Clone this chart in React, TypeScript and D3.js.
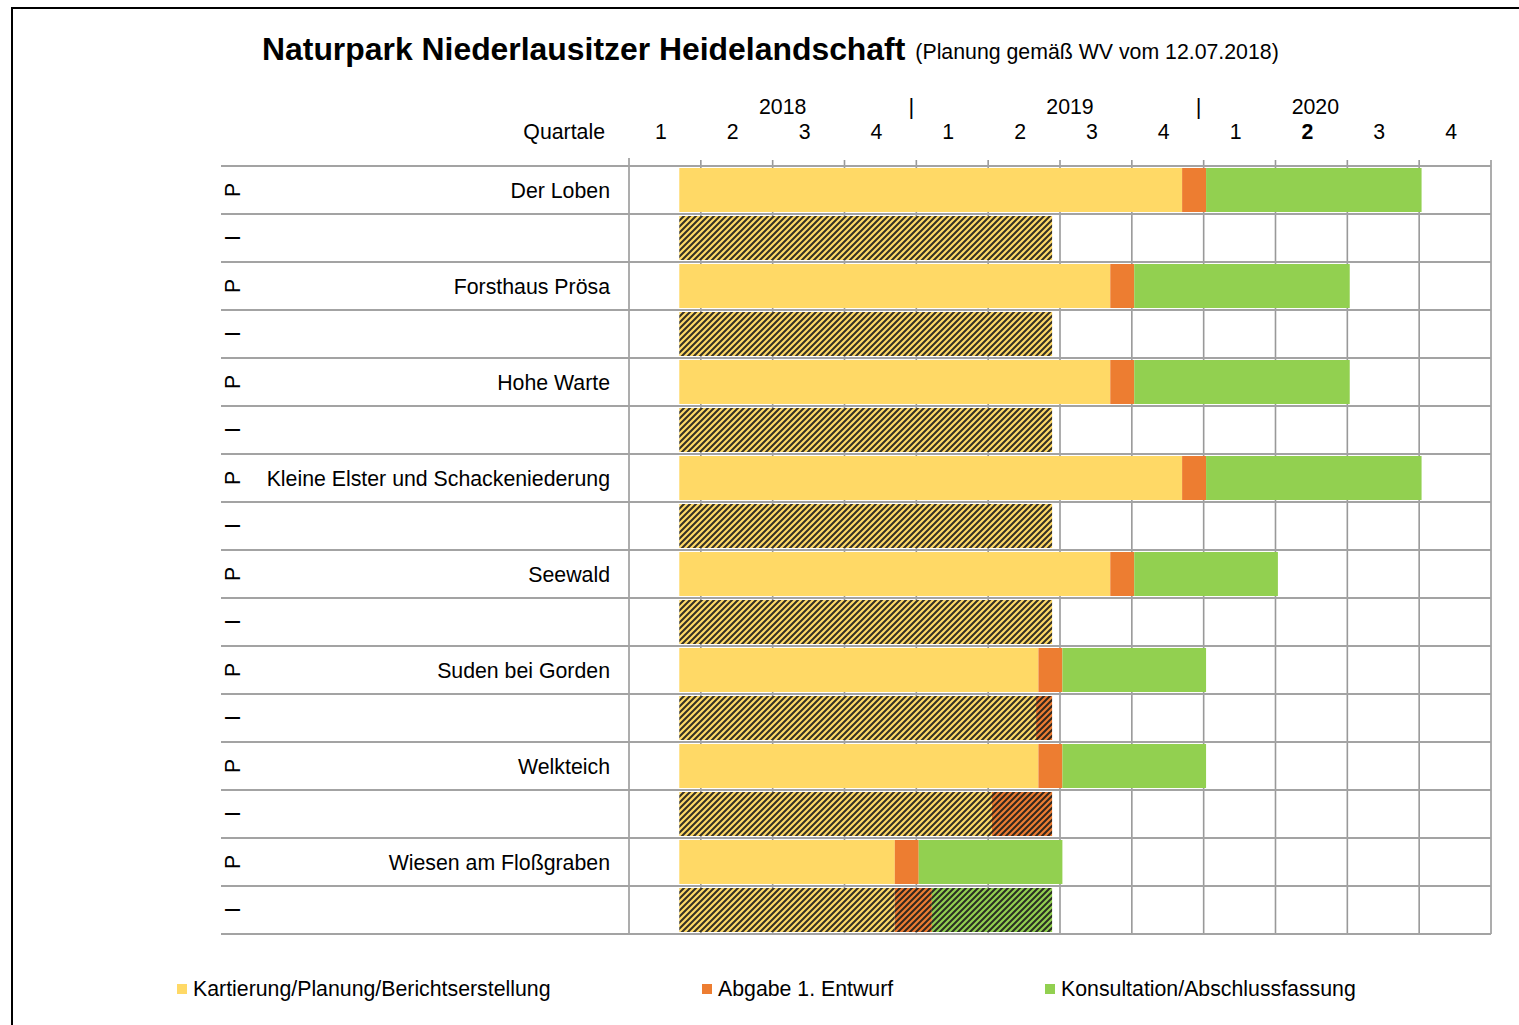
import React from "react";
import * as d3 from "d3";

// Gebiete (eine P-Zeile = Planung, eine I-Zeile = Ist je Gebiet)
const areas = [
  "Der Loben",
  "Forsthaus Prösa",
  "Hohe Warte",
  "Kleine Elster und Schackeniederung",
  "Seewald",
  "Suden bei Gorden",
  "Welkteich",
  "Wiesen am Floßgraben",
];

// Werte in Monaten ab Jan 2018
const planStart = [2.1, 2.1, 2.1, 2.1, 2.1, 2.1, 2.1, 2.1];
const planKartEnd = [23.1, 20.1, 20.1, 23.1, 20.1, 17.1, 17.1, 11.1];
const planAbgabeEnd = [24.1, 21.1, 21.1, 24.1, 21.1, 18.1, 18.1, 12.1];
const planKonsEnd = [33.1, 30.1, 30.1, 33.1, 27.1, 24.1, 24.1, 18.1];

const istStart = [2.1, 2.1, 2.1, 2.1, 2.1, 2.1, 2.1, 2.1];
const istKartEnd = [17.67, 17.67, 17.67, 17.67, 17.67, 17.0, 15.16, 11.1];
const istAbgabeEnd = [17.67, 17.67, 17.67, 17.67, 17.67, 17.67, 17.67, 12.65];
const istKonsEnd = [17.67, 17.67, 17.67, 17.67, 17.67, 17.67, 17.67, 17.67];

const years = ["2018", "2019", "2020"];
const quarterLabels = ["1", "2", "3", "4"];
const currentQuarter = 9; // 2. Quartal 2020 fett

const phases = [
  "Kartierung/Planung/Berichtserstellung",
  "Abgabe 1. Entwurf",
  "Konsultation/Abschlussfassung",
];
const colors = ["#FFD966", "#ED7D31", "#92D050"];

const FONT = "'Liberation Sans', Arial, sans-serif";
const FS = 21.3;

const App = () => {
  const x = d3.scaleLinear().domain([0, 36]).range([629, 1491]);
  const rowKeys = areas.flatMap((a) => [a + "|P", a + "|I"]);
  const y = d3.scaleBand().domain(rowKeys).range([166, 934]);
  const bh = y.bandwidth();
  const quarterTicks = d3.range(0, 37, 3);

  const segs = (s: number, a: number, b: number, c: number) =>
    [
      [s, a, 0],
      [a, b, 1],
      [b, c, 2],
    ].filter((d) => d[1] - d[0] > 0.01);

  const legendX = [177, 702, 1045];
  const yearShift = [10, 10, -32];

  return (
    <svg
      width={1519}
      height={1025}
      style={{ position: "absolute", left: 0, top: 0, background: "#fff" }}
      fontFamily={FONT}
    >
      <defs>
        {colors.map((c, i) => (
          <pattern
            key={i}
            id={`hatch${i}`}
            width={6}
            height={6}
            patternUnits="userSpaceOnUse"
          >
            <rect width={6} height={6} fill={c} />
            <path
              d="M0,6 L6,0 M-1,1 L1,-1 M5,7 L7,5"
              stroke="#1a1a1a"
              strokeWidth={2.1}
              strokeOpacity={0.88}
            />
          </pattern>
        ))}
      </defs>

      {/* Rahmen */}
      <rect x={12} y={8} width={1530} height={1040} fill="none" stroke="#000" strokeWidth={2} />

      {/* Titel */}
      <text x={262} y={60} fontSize={31.9} fontWeight="bold" fill="#000">
        Naturpark Niederlausitzer Heidelandschaft
        <tspan dx={10} fontSize={FS} fontWeight="normal" dy={-1}>
          (Planung gemäß WV vom 12.07.2018)
        </tspan>
      </text>

      {/* Kopfzeile */}
      {years.map((yr, i) => (
        <text
          key={yr}
          x={x(i * 12 + 6) + yearShift[i]}
          y={114}
          fontSize={FS}
          textAnchor="middle"
        >
          {yr}
        </text>
      ))}
      {[12, 24].map((m) => (
        <text key={m} x={x(m) - 5} y={114} fontSize={22} textAnchor="middle">
          |
        </text>
      ))}
      <text x={605} y={139} fontSize={FS} textAnchor="end">
        Quartale
      </text>
      {d3.range(12).map((q) => (
        <text
          key={q}
          x={x(q * 3 + 1.5) - 4}
          y={139}
          fontSize={FS}
          textAnchor="middle"
          fontWeight={q === currentQuarter ? "bold" : "normal"}
        >
          {quarterLabels[q % 4]}
        </text>
      ))}

      {/* Gitter */}
      {quarterTicks.map((m) => (
        <line
          key={m}
          x1={x(m)}
          x2={x(m)}
          y1={m === 0 ? 158 : 160}
          y2={934}
          stroke="#999"
          strokeWidth={1.6}
        />
      ))}
      {d3.range(rowKeys.length + 1).map((i) => (
        <line
          key={i}
          x1={221}
          x2={1491}
          y1={166 + i * bh}
          y2={166 + i * bh}
          stroke="#a3a3a3"
          strokeWidth={1.8}
        />
      ))}

      {/* Balken */}
      {areas.map((a, i) => (
        <g key={a}>
          {segs(planStart[i], planKartEnd[i], planAbgabeEnd[i], planKonsEnd[i]).map(
            ([s, e, c], j) => (
              <rect
                key={"p" + j}
                x={x(s)}
                y={(y(a + "|P") as number) + 2}
                width={x(e) - x(s)}
                height={bh - 4}
                fill={colors[c]}
              />
            )
          )}
          {segs(istStart[i], istKartEnd[i], istAbgabeEnd[i], istKonsEnd[i]).map(
            ([s, e, c], j) => (
              <rect
                key={"i" + j}
                x={x(s)}
                y={(y(a + "|I") as number) + 2}
                width={x(e) - x(s)}
                height={bh - 4}
                fill={`url(#hatch${c})`}
              />
            )
          )}
        </g>
      ))}

      {/* Zeilenbeschriftung */}
      {rowKeys.map((k) => {
        const [name, kind] = k.split("|");
        const cy = (y(k) as number) + bh / 2;
        return (
          <g key={k}>
            <text
              transform={`translate(233, ${cy}) rotate(-90)`}
              fontSize={FS}
              textAnchor="middle"
              dominantBaseline="central"
            >
              {kind}
            </text>
            {kind === "P" && (
              <text x={610} y={cy + 7.5} fontSize={FS} textAnchor="end">
                {name}
              </text>
            )}
          </g>
        );
      })}

      {/* Legende */}
      {phases.map((p, i) => (
        <g key={p}>
          <rect x={legendX[i]} y={984} width={10} height={10} fill={colors[i]} />
          <text x={legendX[i] + 16} y={996} fontSize={FS}>
            {p}
          </text>
        </g>
      ))}
    </svg>
  );
};

export default App;
